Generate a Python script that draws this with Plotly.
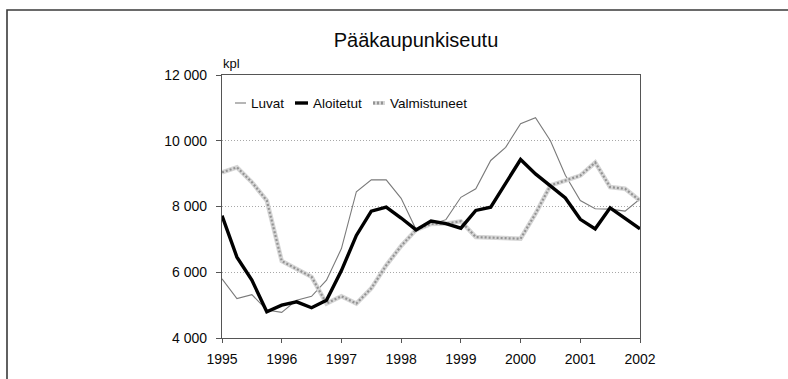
import plotly.graph_objects as go

# Quarterly housing figures, 1995 Q1 .. 2002 Q1
quarters = [1995 + q / 4 for q in range(29)]

luvat = [5800, 5200, 5320, 4850,
         4780, 5150, 5270, 5760,
         6720, 8450, 8810, 8810,
         8250, 7300, 7450, 7600,
         8280, 8540, 9400, 9800,
         10520, 10700, 10000, 8950,
         8180, 7930, 7920, 7860,
         8230]

aloitetut = [7720, 6460, 5760, 4800,
             5000, 5100, 4920, 5150,
             6050, 7120, 7860, 7980,
             7650, 7290, 7560, 7480,
             7340, 7880, 7980, 8720,
             9430, 8990, 8610, 8260,
             7610, 7320, 7960, 7630,
             7320]

valmistuneet = [9040, 9190, 8740, 8180,
                6340, 6110, 5860, 5050,
                5270, 5050, 5510, 6210,
                6800, 7290, 7470, 7480,
                7550, 7070, 7050, 7020,
                7020, 7780, 8640, 8790,
                8940, 9340, 8590, 8540,
                8180]

series_names = ["Luvat", "Aloitetut", "Valmistuneet"]

y_tickvals = [4000, 6000, 8000, 10000, 12000]
y_ticktext = ["4 000", "6 000", "8 000", "10 000", "12 000"]
x_tickvals = [1995, 1996, 1997, 1998, 1999, 2000, 2001, 2002]
x_ticktext = ["1995", "1996", "1997", "1998", "1999", "2000", "2001", "2002"]

FONT = "Liberation Sans, Arial, Helvetica, sans-serif"
TXT = "#0a0a0a"
W, H = 788, 379
ML, MR, MT, MB = 222, 148, 75, 41
PW, PH = W - ML - MR, H - MT - MB


def px(x):
    return (x - ML) / PW


def py(y):
    return (H - MB - y) / PH


fig = go.Figure()

fig.add_trace(go.Scatter(x=quarters, y=luvat, mode="lines", name=series_names[0],
                         line=dict(color="#7a7a7a", width=1.1)))
# hatched look: pale wide band with a darker dotted line over it
fig.add_trace(go.Scatter(x=quarters, y=valmistuneet, mode="lines", showlegend=False,
                         hoverinfo="skip", line=dict(color="#d6d6d6", width=4.5)))
fig.add_trace(go.Scatter(x=quarters, y=valmistuneet, mode="lines", name=series_names[2],
                         line=dict(color="#949494", width=2.2, dash="2px,2px")))
fig.add_trace(go.Scatter(x=quarters, y=aloitetut, mode="lines", name=series_names[1],
                         line=dict(color="#000000", width=3.4)))

# outer frame of the figure
fig.add_shape(type="rect", xref="paper", yref="paper",
              x0=px(7), x1=px(W + 40), y0=py(H + 40), y1=py(10),
              line=dict(color="#3a3a3a", width=1.6), layer="below")

# legend drawn inside the plot area
legend_items = [
    (series_names[0], 235, 246, dict(color="#7a7a7a", width=1.1), None),
    (series_names[1], 295, 308, dict(color="#000000", width=3.4), None),
    (series_names[2], 373, 385, dict(color="#949494", width=3, dash="2px,2px"), "#d6d6d6"),
]
LEG_Y = 103
for name, x0, x1, ln, base in legend_items:
    if base:
        fig.add_shape(type="line", xref="paper", yref="paper",
                      x0=px(x0), x1=px(x1), y0=py(LEG_Y), y1=py(LEG_Y),
                      line=dict(color=base, width=4))
    fig.add_shape(type="line", xref="paper", yref="paper",
                  x0=px(x0), x1=px(x1), y0=py(LEG_Y), y1=py(LEG_Y), line=ln)
    fig.add_annotation(x=px(x1 + 3), y=py(LEG_Y), xref="paper", yref="paper",
                       text=name, showarrow=False, xanchor="left", yanchor="middle",
                       font=dict(family=FONT, size=13.5, color=TXT))

# unit label above the y axis
fig.add_annotation(x=px(221), y=py(64), xref="paper", yref="paper", text="kpl",
                   showarrow=False, xanchor="left", yanchor="middle",
                   font=dict(family=FONT, size=13, color=TXT))

fig.update_layout(
    width=W, height=H,
    margin=dict(l=ML, r=MR, t=MT, b=MB),
    paper_bgcolor="white", plot_bgcolor="white",
    showlegend=False,
    title=dict(text="Pääkaupunkiseutu", x=px(416), xref="paper", xanchor="center",
               y=1 - 40 / H, yref="container", yanchor="middle",
               font=dict(family=FONT, size=20, color=TXT)),
    font=dict(family=FONT, size=14, color=TXT),
)

fig.update_xaxes(range=[1995, 2002], tickvals=x_tickvals, ticktext=x_ticktext,
                 showgrid=False, zeroline=False,
                 showline=True, linecolor="#555", linewidth=1.2, mirror=True,
                 ticks="outside", ticklen=4, tickcolor="#555",
                 ticklabelstandoff=4,
                 tickfont=dict(family=FONT, size=14, color=TXT))
fig.update_yaxes(range=[4000, 12000], tickvals=y_tickvals, ticktext=y_ticktext,
                 showgrid=True, gridcolor="#a8a8a8", griddash="1px,2px", gridwidth=1,
                 zeroline=False,
                 showline=True, linecolor="#555", linewidth=1.2, mirror=True,
                 ticks="outside", ticklen=5, tickcolor="#555",
                 ticklabelstandoff=6,
                 tickfont=dict(family=FONT, size=14, color=TXT))

fig.write_html("out.html")
